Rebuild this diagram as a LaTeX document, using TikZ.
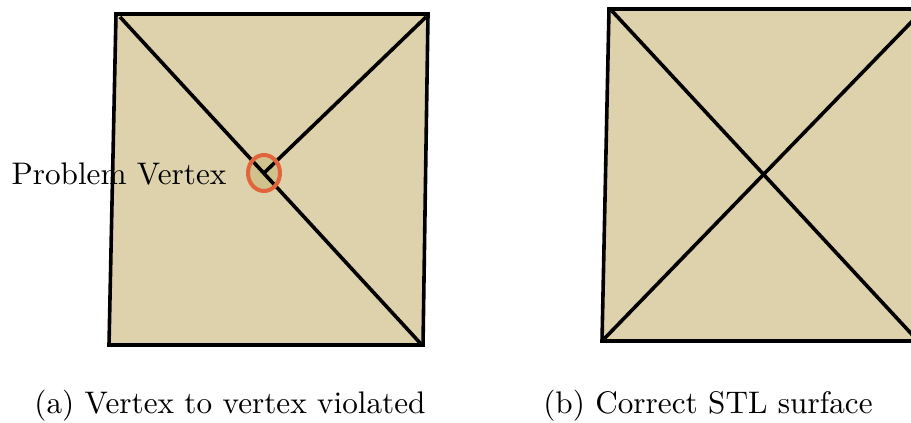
\documentclass[tikz,border=0pt]{standalone}
\usetikzlibrary{calc}
\definecolor{tan}{HTML}{DED2AC}
\definecolor{tandark}{HTML}{D0C28C}
\definecolor{vorange}{HTML}{E2643C}
\tikzset{
  face/.style={fill=tan, draw=black, line width=3.6*0.3125pt, line join=miter},
  edge/.style={draw=black, line width=3.6*0.3125pt},
  lbl/.style={font=\fontsize{9.75}{12}\selectfont, inner sep=0pt},
}
\begin{document}
\begin{tikzpicture}[x=0.3125pt, y=-0.3125pt]
\useasboundingbox (0,0) rectangle (911,423);
% left panel
\coordinate (aTL) at (116,14);
\coordinate (aTR) at (428,14);
\coordinate (aBR) at (423,345);
\coordinate (aBL) at (109,345);
\coordinate (aD1) at (120,17);
\coordinate (aD2) at (421,344);
\coordinate (aD3) at (426,17);
\coordinate (aV) at (264,173);
\draw[face] (aTL) -- (aTR) -- (aBR) -- (aBL) -- cycle;
\fill[tandark] (aV) ellipse [x radius=16, y radius=18];
\draw[edge] (aD1) -- (aD2);
\draw[edge] (aD3) -- (aV);
\draw[vorange, line width=4*0.3125pt] (aV) ellipse [x radius=16, y radius=18];
\node[lbl, anchor=base west] (pv) at (11,185) {Problem Vertex};
% right panel
\coordinate (bTL) at (609,9);
\coordinate (bTR) at (924,9);
\coordinate (bBR) at (918,341);
\coordinate (bBL) at (602,341);
\draw[face] (bTL) -- (bTR) -- (bBR) -- (bBL) -- cycle;
\draw[edge] (612,11) -- (918,341);
\draw[edge] (604,339) -- (924,9);
% captions
\node[lbl, anchor=base] (capa) at (230,414) {(a) Vertex to vertex violated};
\node[lbl, anchor=base] (capb) at (708,414) {(b) Correct STL surface};
\end{tikzpicture}
\end{document}
